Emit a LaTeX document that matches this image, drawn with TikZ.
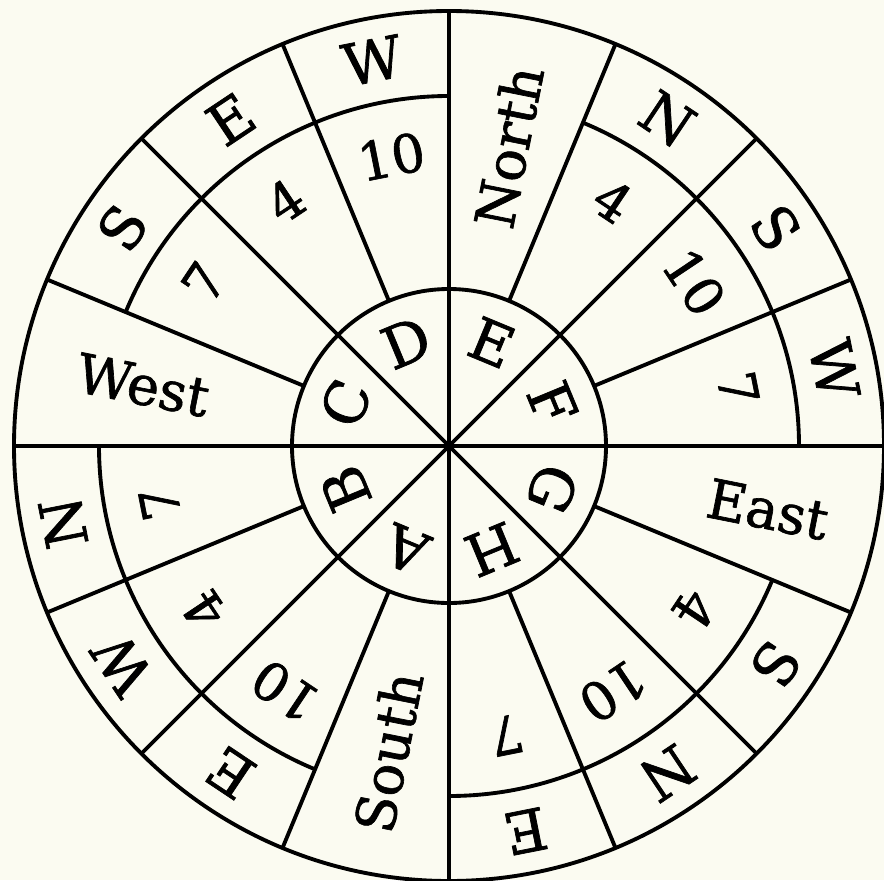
\documentclass[tikz,border=0pt]{standalone}
\usepackage{fontspec}
\setmainfont{DejaVu Serif}
\newfontfamily\dialfont{DejaVu Serif}[FakeBold=1.2]
\usepackage{tikz}
\definecolor{parchment}{RGB}{251,251,241}

\begin{document}
\begin{tikzpicture}[
    rim/.style={line width=1.1pt},
    tag/.style={font=\dialfont\fontsize{16.5}{16}\selectfont, inner sep=0pt},
    num/.style={font=\dialfont\fontsize{15}{15}\selectfont, inner sep=0pt},
    word/.style={font=\dialfont\fontsize{15.5}{16}\selectfont, inner sep=0pt}
  ]
  \fill[parchment] (-4.49,-4.34) rectangle (4.35,4.46);
  \useasboundingbox (-4.49,-4.34) rectangle (4.35,4.46);
  \coordinate (o) at (0,0);
  \draw[rim] (o) circle (4.35);
  \draw[rim] (o) circle (1.57);
  \draw[rim] (0:4.35) -- (180:4.35) (90:4.35) -- (270:4.35)
    (45:4.35) -- (225:4.35) (135:4.35) -- (315:4.35);
  \draw[rim] (22.5:1.57) -- (22.5:4.35) (67.5:1.57) -- (67.5:4.35)
    (112.5:1.57) -- (112.5:4.35) (157.5:1.57) -- (157.5:4.35)
    (202.5:1.57) -- (202.5:4.35) (247.5:1.57) -- (247.5:4.35)
    (292.5:1.57) -- (292.5:4.35) (337.5:1.57) -- (337.5:4.35);
  \draw[rim] (0:3.5) arc[start angle=0, end angle=67.5, radius=3.5];
  \draw[rim] (90:3.5) arc[start angle=90, end angle=157.5, radius=3.5];
  \draw[rim] (180:3.5) arc[start angle=180, end angle=247.5, radius=3.5];
  \draw[rim] (270:3.5) arc[start angle=270, end angle=337.5, radius=3.5];

  \node[tag, rotate=-22.5] (secE) at (67.5:1.12) {E};
  \node[tag, rotate=-67.5] (secF) at (22.5:1.12) {F};
  \node[tag, rotate=-112.5] (secG) at (337.5:1.12) {G};
  \node[tag, rotate=-157.5] (secH) at (292.5:1.12) {H};
  \node[tag, rotate=157.5] (secA) at (247.5:1.12) {A};
  \node[tag, rotate=112.5] (secB) at (202.5:1.12) {B};
  \node[tag, rotate=67.5] (secC) at (157.5:1.12) {C};
  \node[tag, rotate=22.5] (secD) at (112.5:1.12) {D};

  \node[word, rotate=78.75] (north) at (78.75:3.05) {North};
  \node[word, rotate=-11.25] (west) at (168.75:3.12) {West};
  \node[word, rotate=78.75] (south) at (258.75:3.12) {South};
  \node[word, rotate=-11.25] (east) at (348.75:3.25) {East};

  \node[num, rotate=-33.75] (ne4) at (56.25:2.95) {4};
  \node[num, rotate=-56.25] (ne10) at (33.75:2.95) {10};
  \node[num, rotate=-78.75] (ne7) at (11.25:2.95) {7};
  \node[num, rotate=11.25] (nw10) at (101.25:2.95) {10};
  \node[num, rotate=33.75] (nw4) at (123.75:2.95) {4};
  \node[num, rotate=56.25] (nw7) at (146.25:2.95) {7};
  \node[num, rotate=101.25] (sw7) at (191.25:2.95) {7};
  \node[num, rotate=123.75] (sw4) at (213.75:2.95) {4};
  \node[num, rotate=146.25] (sw10) at (236.25:2.95) {10};
  \node[num, rotate=191.25] (se7) at (281.25:2.95) {7};
  \node[num, rotate=213.75] (se10) at (303.75:2.95) {10};
  \node[num, rotate=236.25] (se4) at (326.25:2.95) {4};

  \node[tag, rotate=-33.75] (neN) at (56.25:3.93) {N};
  \node[tag, rotate=-56.25] (neS) at (33.75:3.93) {S};
  \node[tag, rotate=-78.75] (neW) at (11.25:3.93) {W};
  \node[tag, rotate=11.25] (nwW) at (101.25:3.93) {W};
  \node[tag, rotate=33.75] (nwE) at (123.75:3.93) {E};
  \node[tag, rotate=56.25] (nwS) at (146.25:3.93) {S};
  \node[tag, rotate=101.25] (swN) at (191.25:3.93) {N};
  \node[tag, rotate=123.75] (swW) at (213.75:3.93) {W};
  \node[tag, rotate=146.25] (swE) at (236.25:3.93) {E};
  \node[tag, rotate=191.25] (seE) at (281.25:3.93) {E};
  \node[tag, rotate=213.75] (seN) at (303.75:3.93) {N};
  \node[tag, rotate=236.25] (seS) at (326.25:3.93) {S};
\end{tikzpicture}
\end{document}
